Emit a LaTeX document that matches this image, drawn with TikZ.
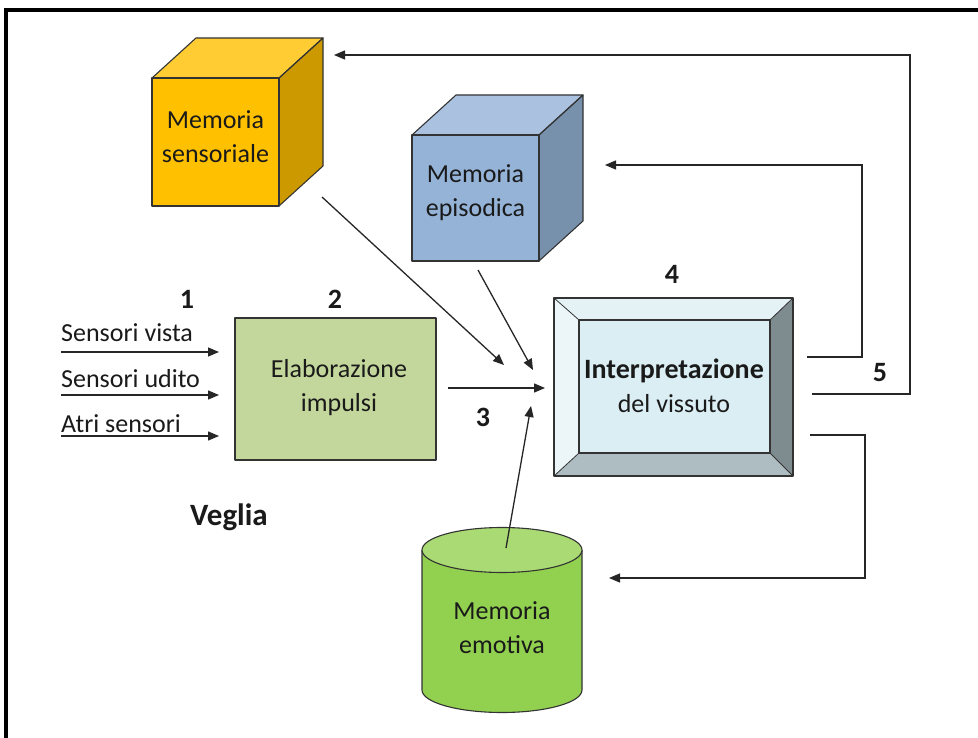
\documentclass[tikz,border=0pt]{standalone}
\usepackage{fontspec}
\setmainfont{Carlito}
\usetikzlibrary{arrows.meta}
\definecolor{sensF}{HTML}{FFC000}
\definecolor{sensT}{HTML}{FFCD33}
\definecolor{sensR}{HTML}{CC9A00}
\definecolor{epiF}{HTML}{95B3D7}
\definecolor{epiT}{HTML}{AAC2DF}
\definecolor{epiR}{HTML}{7790AC}
\definecolor{elabF}{HTML}{C3D69B}
\definecolor{intIn}{HTML}{DAEEF3}
\definecolor{intT}{HTML}{E4F2F6}
\definecolor{intL}{HTML}{ECF6F9}
\definecolor{intR}{HTML}{7F8C8F}
\definecolor{intB}{HTML}{AEBDC1}
\definecolor{emoF}{HTML}{92D050}
\definecolor{emoT}{HTML}{A9DA74}
\definecolor{txt}{HTML}{1A1A1A}
\begin{document}
\begin{tikzpicture}[x=1pt,y=-1pt,
  edge/.style={draw=black!85, line width=1.3pt},
  conn/.style={edge, -{Triangle[length=11pt,width=9pt]}},
  face/.style={draw=black!80, line width=1.1pt, line join=round},
  lbl/.style={font=\fontsize{26}{34}\selectfont, text=txt, align=center, inner sep=0pt},
  num/.style={font=\fontsize{28}{32}\selectfont\bfseries, text=txt, inner sep=0pt},
  sensor/.style={font=\fontsize{26}{30}\selectfont, text=txt, anchor=west, inner sep=0pt}]
\useasboundingbox (0,0) rectangle (978,738);
\fill[white] (0,0) rectangle (978,738);
% frame
\draw[line width=4.5pt] (6,738) -- (6,10) -- (978,10);

% Memoria sensoriale cube
\fill[sensT] (152,78) -- (196,38) -- (323,38) -- (279,78) -- cycle;
\fill[sensR] (279,78) -- (323,38) -- (323,166) -- (279,206) -- cycle;
\draw[face] (152,78) -- (196,38) -- (323,38) -- (279,78) -- cycle;
\draw[face] (279,78) -- (323,38) -- (323,166) -- (279,206);
\node[face, fill=sensF, minimum width=127pt, minimum height=128pt, inner sep=0pt] (sens) at (215.5,142) {};
\node[lbl] (senstxt) at (215.5,137) {Memoria\\sensoriale};

% Memoria episodica cube
\fill[epiT] (412,135) -- (456,95) -- (583,95) -- (539,135) -- cycle;
\fill[epiR] (539,135) -- (583,95) -- (583,221) -- (539,261) -- cycle;
\draw[face] (412,135) -- (456,95) -- (583,95) -- (539,135) -- cycle;
\draw[face] (539,135) -- (583,95) -- (583,221) -- (539,261);
\node[face, fill=epiF, minimum width=127pt, minimum height=126pt, inner sep=0pt] (epi) at (475.5,198) {};
\node[lbl] (epitxt) at (475.5,193) {Memoria\\episodica};

% Elaborazione impulsi
\node[face, fill=elabF, minimum width=201pt, minimum height=142pt, inner sep=0pt] (elab) at (335.5,389) {};
\node[lbl] (elabtxt) at (339,388) {Elaborazione\\impulsi};

% Interpretazione del vissuto (bevel)
\fill[intT] (554,298) -- (793,298) -- (770,320) -- (579,320) -- cycle;
\fill[intL] (554,298) -- (579,320) -- (579,453) -- (554,476) -- cycle;
\fill[intR] (793,298) -- (793,476) -- (770,453) -- (770,320) -- cycle;
\fill[intB] (554,476) -- (793,476) -- (770,453) -- (579,453) -- cycle;
\node[face, minimum width=239pt, minimum height=178pt, inner sep=0pt] (interp) at (673.5,387) {};
\draw[black!80, line width=0.8pt] (554,298) -- (579,320) (793,298) -- (770,320) (554,476) -- (579,453) (793,476) -- (770,453);
\node[face, fill=intIn, minimum width=191pt, minimum height=133pt, inner sep=0pt] (interpin) at (674.5,386.5) {};
\node[lbl] (interptxt) at (674,386) {{\fontsize{28}{34}\selectfont\bfseries Interpretazione}\\del vissuto};

% Memoria emotiva cylinder
\fill[emoF, draw=black!80, line width=1.1pt] (422,550) -- (422,690) arc[start angle=180, end angle=360, x radius=80pt, y radius=22.5pt] -- (582,550);
\filldraw[fill=emoT, draw=black!80, line width=1.1pt] (502,550) ellipse[x radius=80pt, y radius=22.5pt];
\node[lbl] (emo) at (502,628) {Memoria\\emotiva};

% numbers and labels
\node[num] (n1) at (187,299) {1};
\node[num] (n2) at (335,299) {2};
\node[num] (n3) at (483,417) {3};
\node[num] (n4) at (672,274) {4};
\node[num] (n5) at (880,373) {5};
\node[num, font=\fontsize{31}{34}\selectfont\bfseries] (veglia) at (229,517) {Veglia};

% sensors
\node[sensor] (s1) at (61,333) {Sensori vista};
\node[sensor] (s2) at (61,379) {Sensori udito};
\node[sensor] (s3) at (61,424) {Atri sensori};
\coordinate (s1a) at (61,352); \coordinate (s1b) at (219,352);
\coordinate (s2a) at (61,395); \coordinate (s2b) at (219,395);
\coordinate (s3a) at (61,436); \coordinate (s3b) at (219,436);
\draw[conn] (s1a) -- (s1b);
\draw[conn] (s2a) -- (s2b);
\draw[conn] (s3a) -- (s3b);

% arrows into interpretazione
\coordinate (e0) at (448,388); \coordinate (e1) at (545,388);
\draw[conn] (e0) -- (e1);
\coordinate (a0) at (322,197); \coordinate (a1) at (504,365);
\draw[conn] (a0) -- (a1);
\coordinate (b0) at (478,270); \coordinate (b1) at (533,370);
\draw[conn] (b0) -- (b1);
\coordinate (c0) at (506,548); \coordinate (c1) at (531,406);
\draw[conn] (c0) -- (c1);

% feedback arrows
\coordinate (f1a) at (807,357); \coordinate (f1b) at (862,357); \coordinate (f1c) at (862,165); \coordinate (f1d) at (605,165);
\draw[conn] (f1a) -- (f1b) -- (f1c) -- (f1d);
\coordinate (f2a) at (812,394); \coordinate (f2b) at (910,394); \coordinate (f2c) at (910,55); \coordinate (f2d) at (334,55);
\draw[conn] (f2a) -- (f2b) -- (f2c) -- (f2d);
\coordinate (f3a) at (810,435); \coordinate (f3b) at (865,435); \coordinate (f3c) at (865,578); \coordinate (f3d) at (609,578);
\draw[conn] (f3a) -- (f3b) -- (f3c) -- (f3d);
\end{tikzpicture}
\end{document}
